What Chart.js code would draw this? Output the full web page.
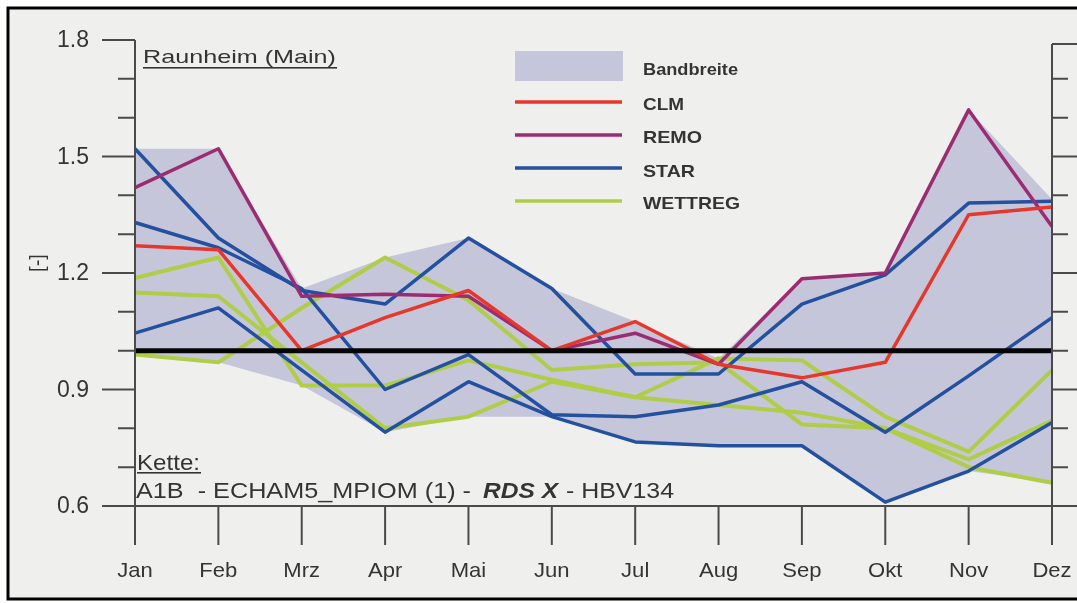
<!DOCTYPE html>
<html>
<head>
<meta charset="utf-8">
<script src="https://cdn.jsdelivr.net/npm/chart.js@4/dist/chart.umd.min.js"></script>
<style>
  html, body { margin: 0; padding: 0; background: #ffffff; }
  #wrap { width: 1077px; height: 603px; }
</style>
</head>
<body>
<div id="wrap"><canvas id="c" width="1077" height="603"></canvas></div>
<script>
// Monthly factors, Raunheim (Main)
const months = ['Jan','Feb','Mrz','Apr','Mai','Jun','Jul','Aug','Sep','Okt','Nov','Dez'];
const yTicks = [0.6, 0.9, 1.2, 1.5, 1.8];

const bandUpper = [1.52, 1.52, 1.16, 1.24, 1.29, 1.16, 1.075, 0.98, 1.185, 1.20, 1.62, 1.39];
const bandLower = [0.99, 0.97, 0.91, 0.79, 0.83, 0.83, 0.765, 0.755, 0.755, 0.61, 0.69, 0.66];

const clm   = [1.27, 1.26, 1.00, 1.085, 1.155, 1.00, 1.075, 0.965, 0.93, 0.97, 1.35, 1.37];
const remo  = [1.42, 1.52, 1.14, 1.145, 1.14, 1.00, 1.045, 0.965, 1.185, 1.20, 1.62, 1.32];
const star1 = [1.52, 1.29, 1.155, 1.12, 1.29, 1.16, 0.94, 0.94, 1.12, 1.195, 1.38, 1.385];
const star2 = [1.33, 1.265, 1.16, 0.90, 0.99, 0.835, 0.83, 0.86, 0.92, 0.79, 0.935, 1.085];
const star3 = [1.045, 1.11, 0.95, 0.79, 0.92, 0.83, 0.765, 0.755, 0.755, 0.61, 0.69, 0.815];
const wett1 = [1.187, 1.24, 0.91, 0.91, 0.975, 0.925, 0.88, 0.86, 0.84, 0.80, 0.70, 0.66];
const wett2 = [1.15, 1.14, 0.97, 0.80, 0.83, 0.92, 0.88, 0.98, 0.975, 0.83, 0.74, 0.95];
const wett3 = [0.99, 0.97, 1.11, 1.24, 1.13, 0.95, 0.965, 0.97, 0.81, 0.80, 0.72, 0.82];
const baseline = [1, 1, 1, 1, 1, 1, 1, 1, 1, 1, 1, 1];

const COL = {
  band: '#c6c6da',
  clm: '#e6372c',
  remo: '#9c2c72',
  star: '#2450a0',
  wett: '#afcd46',
  text: '#343434',
  axis: '#4a4a4a',
  bg: '#eff0ee'
};

function line(label, data, color, width) {
  return {
    label, data, borderColor: color, borderWidth: width || 3, pointRadius: 0,
    fill: false, tension: 0, borderJoinStyle: 'round', borderCapStyle: 'butt'
  };
}

// Draw a string squeezed/stretched to a given width
function fitText(ctx, str, x, y, w, font, align) {
  ctx.font = font;
  const m = ctx.measureText(str).width;
  const s = w / m;
  ctx.save();
  ctx.translate(x, y);
  ctx.scale(s, 1);
  ctx.textAlign = 'left';
  ctx.fillText(str, align === 'center' ? -m / 2 : (align === 'right' ? -m : 0), 0);
  ctx.restore();
}

const decor = {
  id: 'decor',
  beforeDraw(chart) {
    const ctx = chart.ctx;
    ctx.save();
    ctx.fillStyle = '#ffffff';
    ctx.fillRect(0, 0, chart.width, chart.height);
    ctx.fillStyle = COL.bg;
    ctx.fillRect(8, 8, chart.width - 8, chart.height - 12);
    ctx.restore();
  },
  afterDatasetsDraw(chart) {
    const ctx = chart.ctx;
    const xs = chart.scales.x, ys = chart.scales.y;
    const L = xs.getPixelForValue(0), R = xs.getPixelForValue(months.length - 1);
    const T = ys.getPixelForValue(1.8), B = ys.getPixelForValue(0.6);
    ctx.save();
    ctx.strokeStyle = COL.axis;
    ctx.lineWidth = 2;
    ctx.lineCap = 'butt';
    // y axes (left and right)
    ctx.beginPath();
    ctx.moveTo(L, T); ctx.lineTo(L, B);
    ctx.moveTo(R, T + 4); ctx.lineTo(R, B);
    ctx.stroke();
    // x axis
    ctx.beginPath();
    ctx.moveTo(102, B); ctx.lineTo(chart.width, B);
    ctx.stroke();
    // minor/major ticks every 0.1
    for (let k = 6; k <= 18; k++) {
      const y = ys.getPixelForValue(k / 10);
      const major = (k % 3 === 0);
      const dy = (k === 18 ? 4 : 0);
      ctx.beginPath();
      ctx.moveTo(L - (major ? 33 : 17), y); ctx.lineTo(L, y);
      ctx.moveTo(R, y + dy); ctx.lineTo(R + (major ? 30 : 16), y + dy);
      ctx.stroke();
    }
    // month ticks
    months.forEach((m, i) => {
      const x = xs.getPixelForValue(i);
      ctx.beginPath();
      ctx.moveTo(x, B); ctx.lineTo(x, B + 39);
      ctx.stroke();
    });
    // y tick labels
    ctx.fillStyle = COL.text;
    ctx.textBaseline = 'middle';
    yTicks.forEach(v => {
      ctx.font = '23px "Liberation Sans", Arial, sans-serif';
      ctx.textAlign = 'right';
      ctx.fillText(v.toFixed(1), 89, ys.getPixelForValue(v) + 1);
    });
    // month labels
    ctx.textBaseline = 'alphabetic';
    months.forEach((m, i) => {
      const x = xs.getPixelForValue(i);
      const f = '21px "Liberation Sans", Arial, sans-serif';
      ctx.font = f;
      const w = ctx.measureText(m).width * 1.05;
      fitText(ctx, m, x, 577, w, f, 'center');
    });
    // y axis unit
    ctx.save();
    ctx.translate(44, 263);
    ctx.rotate(-Math.PI / 2);
    ctx.textAlign = 'center';
    ctx.font = '20px "Liberation Sans", Arial, sans-serif';
    ctx.fillText('[-]', 0, 0);
    ctx.restore();

    // station title
    ctx.fillStyle = COL.text;
    fitText(ctx, 'Raunheim (Main)', 143, 63, 193, '19px "Liberation Sans", Arial, sans-serif');
    ctx.fillRect(143, 67, 194, 1.6);

    // model chain
    fitText(ctx, 'Kette:', 137, 470, 63, '22px "Liberation Sans", Arial, sans-serif');
    ctx.fillRect(137, 472, 64, 1.6);
    fitText(ctx, 'A1B  - ECHAM5_MPIOM (1) - ', 136, 498, 342, '22px "Liberation Sans", Arial, sans-serif');
    fitText(ctx, 'RDS X', 483, 498, 75, 'italic bold 22px "Liberation Sans", Arial, sans-serif');
    fitText(ctx, ' - HBV134', 559, 498, 115, '22px "Liberation Sans", Arial, sans-serif');

    // legend
    ctx.fillStyle = COL.band;
    ctx.fillRect(515, 51, 108, 30);
    const leg = [
      ['CLM', COL.clm, 102, 110, 41],
      ['REMO', COL.remo, 135, 143, 59],
      ['STAR', COL.star, 168, 177, 52],
      ['WETTREG', COL.wett, 201, 209, 97]
    ];
    leg.forEach(([name, col, ly, ty, tw]) => {
      ctx.strokeStyle = col;
      ctx.lineWidth = 3.5;
      ctx.beginPath(); ctx.moveTo(515, ly); ctx.lineTo(622, ly); ctx.stroke();
      ctx.fillStyle = COL.text;
      fitText(ctx, name, 643, ty, tw, 'bold 17px "Liberation Sans", Arial, sans-serif');
    });
    ctx.fillStyle = COL.text;
    fitText(ctx, 'Bandbreite', 643, 75, 95, 'bold 16px "Liberation Sans", Arial, sans-serif');

    // outer frame
    ctx.strokeStyle = '#000000';
    ctx.lineWidth = 3;
    ctx.beginPath();
    ctx.moveTo(chart.width, 8); ctx.lineTo(8, 8); ctx.lineTo(8, 599); ctx.lineTo(chart.width, 599);
    ctx.stroke();
    ctx.restore();
  }
};

// Lower index is painted on top; the band fill goes under every line.
new Chart(document.getElementById('c'), {
  type: 'line',
  data: {
    labels: months,
    datasets: [
      line('Referenz', baseline, '#050505', 5),
      line('CLM', clm, COL.clm, 3.5),
      line('REMO', remo, COL.remo, 3.5),
      line('STAR', star1, COL.star, 3.5),
      line('STAR', star2, COL.star, 3.5),
      line('STAR', star3, COL.star, 3.5),
      line('WETTREG', wett1, COL.wett, 4),
      line('WETTREG', wett2, COL.wett, 4),
      line('WETTREG', wett3, COL.wett, 4),
      { label: 'Bandbreite', data: bandUpper, borderWidth: 0, pointRadius: 0, tension: 0,
        fill: '+1', backgroundColor: COL.band, borderColor: 'rgba(0,0,0,0)' },
      { label: 'Bandbreite unten', data: bandLower, borderWidth: 0, pointRadius: 0, tension: 0,
        fill: false, borderColor: 'rgba(0,0,0,0)' }
    ]
  },
  options: {
    responsive: false,
    animation: false,
    events: [],
    layout: { padding: { left: 135, right: 25, top: 40, bottom: 97 } },
    plugins: {
      legend: { display: false },
      tooltip: { enabled: false },
      filler: { drawTime: 'beforeDatasetsDraw' }
    },
    scales: {
      x: { type: 'category', display: false, offset: false },
      y: { type: 'linear', display: false, min: 0.6, max: 1.8 }
    }
  },
  plugins: [decor]
});
</script>
</body>
</html>
